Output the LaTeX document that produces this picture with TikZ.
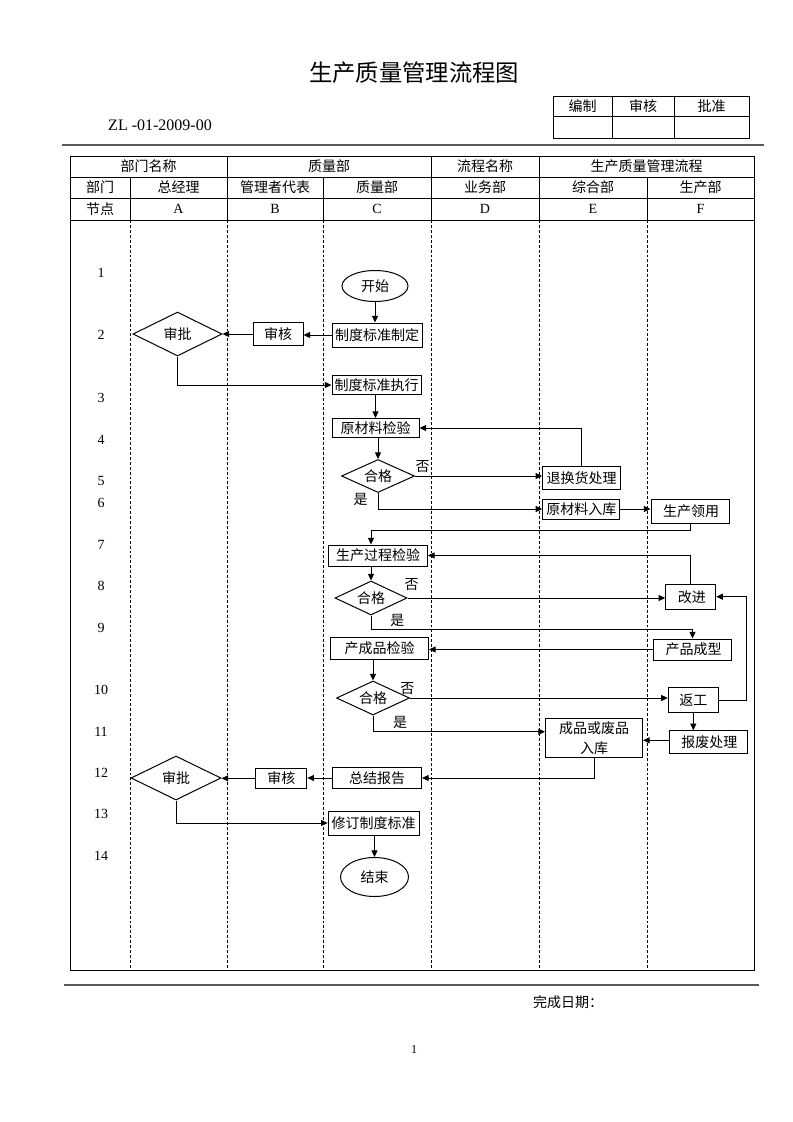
\documentclass[tikz,border=0pt]{standalone}
\usepackage{fontspec}
\setmainfont{Liberation Serif}
\newfontfamily\cjk{Noto Sans CJK SC}
\usetikzlibrary{shapes.geometric,arrows.meta,calc}
\begin{document}
\begin{tikzpicture}[x=0.75pt,y=-0.75pt,
  cn/.style={font=\cjk\fontsize{10.5}{15}\selectfont, inner sep=0pt},
  box/.style 2 args={cn, draw, line width=0.75pt, minimum width=#1*0.75pt, minimum height=#2*0.75pt, align=center},
  dia/.style 2 args={cn, draw, diamond, aspect=2, line width=0.75pt, minimum width=#1*0.75pt, minimum height=#2*0.75pt},
  ell/.style 2 args={cn, draw, ellipse, line width=0.75pt, minimum width=#1*0.75pt, minimum height=#2*0.75pt},
  arr/.style={line width=0.75pt, -{Triangle[length=5pt,width=4.5pt]}},
  ln/.style={line width=0.75pt},
  num/.style={font=\fontsize{10.5}{12}\selectfont, inner sep=0pt},
  dsh/.style={line width=0.6pt, dash pattern=on 2.2pt off 1.5pt},
  rule/.style={line width=1.5pt, draw=black!65},
]
\useasboundingbox (0,0) rectangle (793,1122);

% title and header
\node[cn, font=\cjk\fontsize{17.5}{20}\selectfont] (title) at (414,73) {生产质量管理流程图};
\node[inner sep=0pt, font=\fontsize{12}{14}\selectfont] (code) at (160,125) {ZL -01-2009-00};
\draw[ln] (553,96) rectangle (749,138);
\draw[ln] (553,116) -- (749,116) (612,96) -- (612,138) (674,96) -- (674,138);
\node[cn] (s1) at (582.5,106) {编制};
\node[cn] (s2) at (643,106) {审核};
\node[cn] (s3) at (711.5,106) {批准};
\draw[rule] (62,145) -- (764,145);

% main table
\draw[ln] (70,156) rectangle (754,970);
\draw[ln] (70,177) -- (754,177) (70,198) -- (754,198) (70,220) -- (754,220);
\draw[ln] (227,156) -- (227,177) (431,156) -- (431,177) (539,156) -- (539,177);
\foreach \x in {130,227,323,431,539,647} {
  \draw[ln] (\x,177) -- (\x,220);
  \draw[dsh] (\x,220) -- (\x,970);
}
\node[cn] (h1) at (148.5,166.5) {部门名称};
\node[cn] (h2) at (329,166.5) {质量部};
\node[cn] (h3) at (485,166.5) {流程名称};
\node[cn] (h4) at (646.5,166.5) {生产质量管理流程};
\node[cn] (r1) at (100,187.5) {部门};
\node[cn] (r2) at (178.5,187.5) {总经理};
\node[cn] (r3) at (275,187.5) {管理者代表};
\node[cn] (r4) at (377,187.5) {质量部};
\node[cn] (r5) at (485,187.5) {业务部};
\node[cn] (r6) at (593,187.5) {综合部};
\node[cn] (r7) at (700.5,187.5) {生产部};
\node[cn] (n0) at (100,209) {节点};
\node[num] (nA) at (178.5,209) {A};
\node[num] (nB) at (275,209) {B};
\node[num] (nC) at (377,209) {C};
\node[num] (nD) at (485,209) {D};
\node[num] (nE) at (593,209) {E};
\node[num] (nF) at (700.5,209) {F};

% row numbers
\foreach \n/\y in {1/273,2/335,3/398,4/440,5/481,6/503,7/545,8/586,9/628,10/690,11/732,12/773,13/814,14/856}
  \node[num] (row\n) at (101,\y) {\n};

% flow nodes
\node[ell={66}{31}] (start) at (375,286) {开始};
\node[box={90}{24}] (b1) at (377,335) {制度标准制定};
\node[box={50}{23}] (sh1) at (278,334) {审核};
\node[dia={89}{44}] (sp1) at (177.5,334) {审批};
\node[box={89}{19}] (b2) at (376.5,385) {制度标准执行};
\node[box={87}{19}] (b3) at (375.5,428) {原材料检验};
\node[dia={73}{33}] (d1) at (378,476) {合格};
\node[box={78}{23}] (b4) at (581.7,478.3) {退换货处理};
\node[box={77}{20}] (b5) at (581.3,509) {原材料入库};
\node[box={78}{24}] (b6) at (690,511) {\,生产领用};
\node[box={99}{21}] (b7) at (378,555.5) {生产过程检验};
\node[dia={72}{34}] (d2) at (371,598) {合格};
\node[box={50}{25}] (b8) at (690.7,596.7) {\,改进};
\node[box={78}{21}] (b9) at (692.5,649.5) {\,产品成型};
\node[box={98}{22}] (b10) at (379.5,648.3) {产成品检验};
\node[dia={73}{34}] (d3) at (373,698) {合格};
\node[box={50}{25}] (b11) at (693.3,700) {返工};
\node[box={78}{23}] (b12) at (708.3,742.3) {\,报废处理};
\node[box={97}{39}] (b13) at (594,738) {成品或废品\\入库};
\node[box={89}{21}] (b14) at (377,778) {总结报告};
\node[box={51}{20}] (sh2) at (281.3,778.3) {审核};
\node[dia={90}{44}] (sp2) at (176,778) {审批};
\node[box={91}{24}] (b15) at (373.7,823) {修订制度标准};
\node[ell={68}{39}] (end) at (374.5,877) {结束};

% labels
\node[cn] (no1) at (422.7,466.7) {否};
\node[cn] (yes1) at (360.7,499) {是};
\node[cn] (no2) at (411.7,585) {否};
\node[cn] (yes2) at (397.3,620.7) {是};
\node[cn] (no3) at (407.3,688.3) {否};
\node[cn] (yes3) at (400,722.7) {是};

% connectors
\draw[arr] (start.south) -- (start.south |- b1.north);
\draw[arr] (b1.west) -- (b1.west -| sh1.east);
\draw[arr] (sh1.west) -- (sh1.west -| sp1.east);
\draw[arr] (sp1.south) |- (b2.west);
\draw[arr] (b2.south -| b3.north) -- (b3.north);
\draw[arr] (b4.north) |- (b3.east);
\draw[arr] (b3.south -| d1.north) -- (d1.north);
\draw[arr] (d1.east) -- (d1.east -| b4.west);
\draw[arr] (d1.south) |- (b5.west);
\draw[arr] (b5.east) -- (b5.east -| b6.west);
\coordinate (j1) at (371,530);
\draw[arr] (b6.south) |- (j1) -- (j1 |- b7.north);
\draw[arr] (b8.north) |- (b7.east);
\draw[arr] (b7.south -| d2.north) -- (d2.north);
\draw[arr] (d2.east) -- (d2.east -| b8.west);
\draw[arr] (d2.south) -- ++(0,14) -| (b9.north);
\draw[arr] (b9.west) -- (b9.west -| b10.east);
\draw[arr] (b10.south -| d3.north) -- (d3.north);
\draw[arr] (d3.east) -- (d3.east -| b11.west);
\draw[arr] (b11.east) -- ++(28,0) |- (b8.east);
\draw[arr] (b11.south) -- (b11.south |- b12.north);
\draw[arr] ([yshift=1.5pt]b12.west) -- ([yshift=1.5pt]b12.west -| b13.east);
\draw[arr] (d3.south) |- ([yshift=4.7pt]b13.west);
\draw[arr] (b13.south) |- (b14.east);
\draw[arr] (b14.west) -- (b14.west -| sh2.east);
\draw[arr] (sh2.west) -- (sh2.west -| sp2.east);
\draw[arr] (sp2.south) |- (b15.west);
\draw[arr] (b15.south -| end.north) -- (end.north);

% footer
\draw[rule] (64,985) -- (759,985);
\node[cn] (date) at (568,1002) {完成日期：};
\node[inner sep=0pt, font=\fontsize{9}{10}\selectfont] (page) at (414,1050) {1};
\end{tikzpicture}
\end{document}
